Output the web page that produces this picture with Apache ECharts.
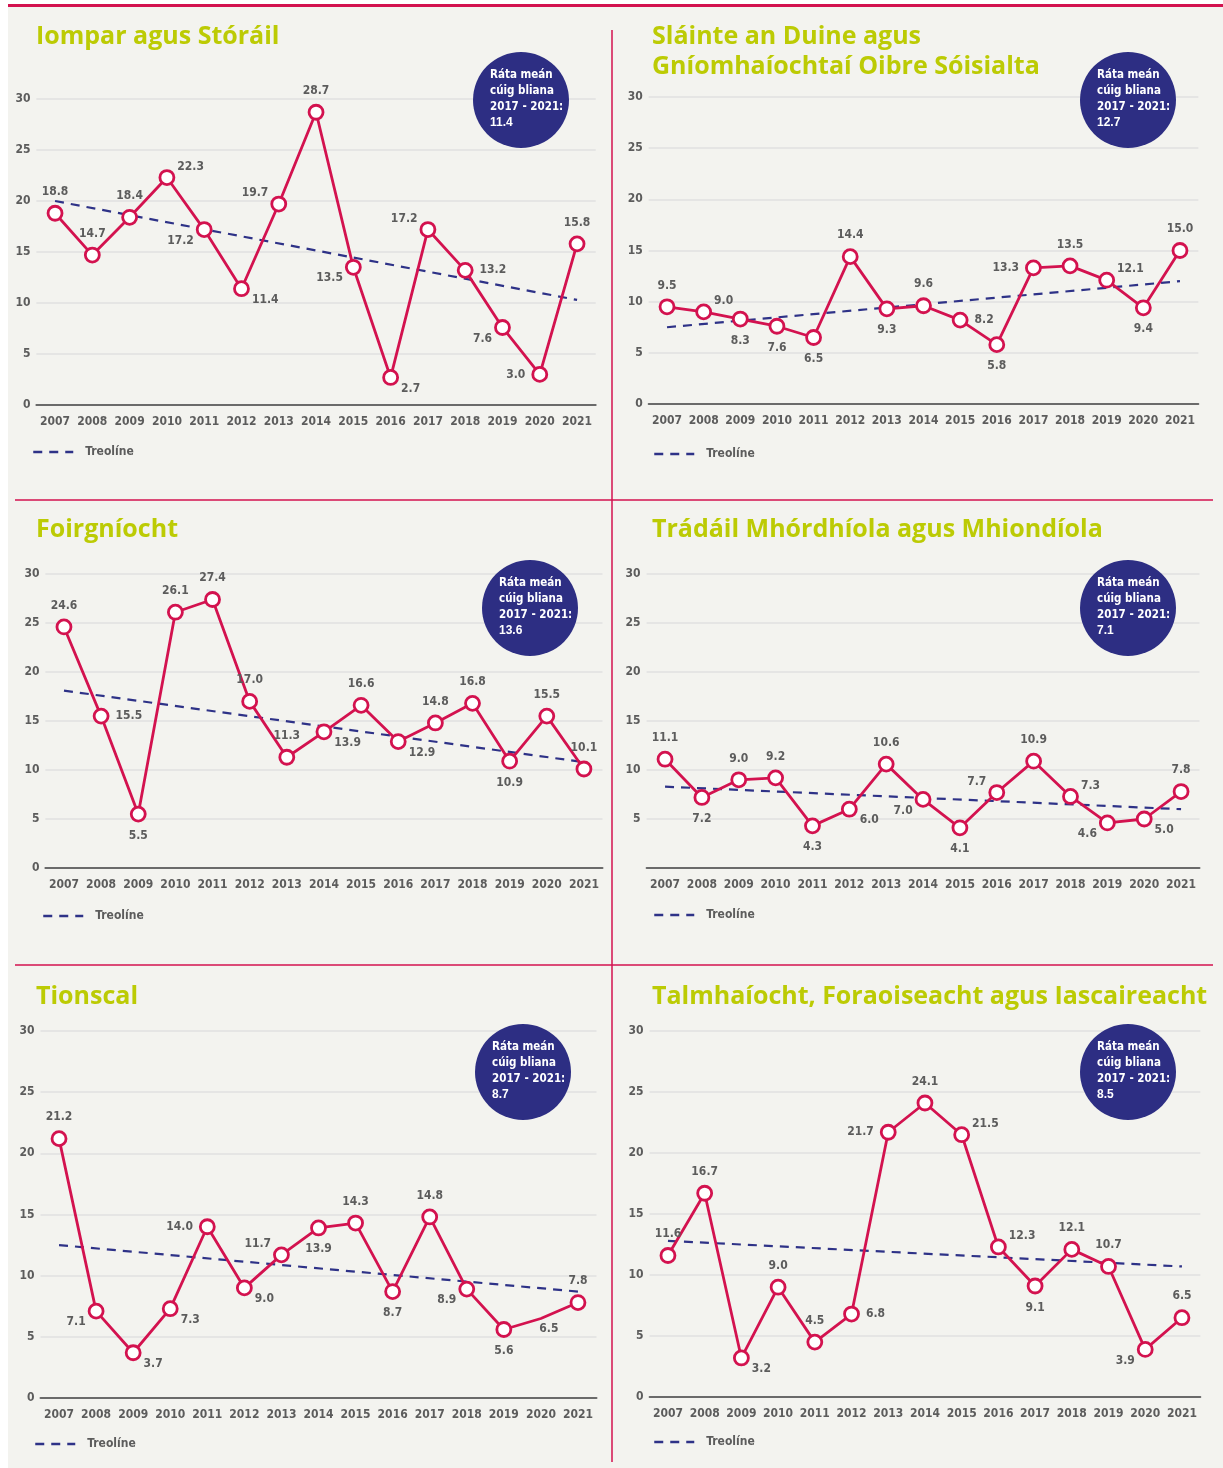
<!DOCTYPE html>
<html lang="ga">
<head>
<meta charset="UTF-8">
<title>Rátaí de réir earnála</title>
<script src="https://cdn.jsdelivr.net/npm/echarts@6/dist/echarts.min.js"></script>
<style>
  html, body { margin: 0; padding: 0; background: #ffffff; }
  #container { width: 1223px; height: 1468px; }
</style>
</head>
<body>
<div id="container"></div>
<script>
// categories
var years = ['2007', '2008', '2009', '2010', '2011', '2012', '2013', '2014',
             '2015', '2016', '2017', '2018', '2019', '2020', '2021'];
var yTicks = [0, 30, 5];   // min, max, interval

// panel titles
var titles = [
    'Iompar agus Stóráil',
    'Sláinte an Duine agus\nGníomhaíochtaí Oibre Sóisialta',
    'Foirgníocht',
    'Trádáil Mhórdhíola agus Mhiondíola',
    'Tionscal',
    'Talmhaíocht, Foraoiseacht agus Iascaireacht'
];

// yearly values
var iompar   = [18.8, 14.7, 18.4, 22.3, 17.2, 11.4, 19.7, 28.7, 13.5, 2.7, 17.2, 13.2, 7.6, 3.0, 15.8];
var slainte  = [9.5, 9.0, 8.3, 7.6, 6.5, 14.4, 9.3, 9.6, 8.2, 5.8, 13.3, 13.5, 12.1, 9.4, 15.0];
var foirgn   = [24.6, 15.5, 5.5, 26.1, 27.4, 17.0, 11.3, 13.9, 16.6, 12.9, 14.8, 16.8, 10.9, 15.5, 10.1];
var tradail  = [11.1, 7.2, 9.0, 9.2, 4.3, 6.0, 10.6, 7.0, 4.1, 7.7, 10.9, 7.3, 4.6, 5.0, 7.8];
var tionscal = [21.2, 7.1, 3.7, 7.3, 14.0, 9.0, 11.7, 13.9, 14.3, 8.7, 14.8, 8.9, 5.6, 6.5, 7.8];
var talmh    = [11.6, 16.7, 3.2, 9.0, 4.5, 6.8, 21.7, 24.1, 21.5, 12.3, 9.1, 12.1, 10.7, 3.9, 6.5];

// trend line (Treolíne) value at 2007 and at 2021
var trendIompar   = [20.0, 10.3];
var trendSlainte  = [7.5, 12.0];
var trendFoirgn   = [18.1, 10.8];
var trendTradail  = [8.3, 6.0];
var trendTionscal = [12.5, 8.7];
var trendTalmh    = [12.8, 10.7];

// five year mean 2017 - 2021
var avgRates = [11.4, 12.7, 13.6, 7.1, 8.7, 8.5];

// years plotted without a marker
var noMarker = [[], [], [], [], ['2020'], []];

// where each value label sits around its point
var placeIompar   = ['t', 't', 't', 'tr', 'bl', 'br', 'tl', 't', 'bl', 'br', 'tl', 'r', 'bl', 'l', 't'];
var placeSlainte  = ['t', 'tr', 'b', 'b', 'b', 't', 'b', 't', 'r', 'b', 'l', 't', 'tr', 'b', 't'];
var placeFoirgn   = ['t', 'r', 'b', 't', 't', 't', 't', 'br', 't', 'br', 't', 't', 'b', 't', 't'];
var placeTradail  = ['t', 'b', 't', 't', 'b', 'br', 't', 'bl', 'b', 'tl', 't', 'tr', 'bl', 'br', 't'];
var placeTionscal = ['t', 'bl', 'br', 'br', 'l', 'br', 'tl', 'b', 't', 'b', 't', 'bl', 'b', 'bR', 't'];
var placeTalmh    = ['t', 't', 'br', 't', 't', 'r', 'l', 't', 'tr', 'tr', 'b', 't', 't', 'bl', 't'];

var values = [iompar, slainte, foirgn, tradail, tionscal, talmh];
var trends = [trendIompar, trendSlainte, trendFoirgn, trendTradail, trendTionscal, trendTalmh];
var places = [placeIompar, placeSlainte, placeFoirgn, placeTradail, placeTionscal, placeTalmh];

// layout of each panel, pixels
var frames = [
    { left: 36.4, width: 559.3, top: 99, height: 306, tx: 36, ty: 22, lx: 32, ly: 453, bx: 521, by: 100, hideZero: false },
    { left: 648.7, width: 549.6, top: 97, height: 307, tx: 652, ty: 22, lx: 653, ly: 455, bx: 1128, by: 100, hideZero: false },
    { left: 45.4, width: 557.1, top: 574, height: 294, tx: 36, ty: 515, lx: 42, ly: 917, bx: 530, by: 608, hideZero: false },
    { left: 646.6, width: 552.9, top: 574, height: 294, tx: 652, ty: 515, lx: 653, ly: 916, bx: 1128, by: 608, hideZero: true },
    { left: 40.5, width: 556, top: 1031, height: 367, tx: 36, ty: 982, lx: 34, ly: 1445, bx: 523, by: 1072, hideZero: false },
    { left: 649.6, width: 550.7, top: 1031, height: 366, tx: 652, ty: 982, lx: 653, ly: 1443, bx: 1128, by: 1072, hideZero: false }
];

var RED = '#d3124f';
var NAVY = '#2e3287';
var GREEN = '#bccb04';
var GREY = '#5c5c5c';
var CONDENSED = "'DejaVu Sans Condensed', 'Liberation Sans Narrow', Roboto, sans-serif";

var labelPlace = {
    t:  { position: 'top', distance: 7 },
    b:  { position: 'bottom', distance: 7 },
    bR: { position: 'bottom', distance: 4, offset: [8, 0] },
    l:  { position: 'left', distance: 6 },
    r:  { position: 'right', distance: 6 },
    tl: { position: 'left', distance: 2, offset: [0, -11] },
    tr: { position: 'right', distance: 2, offset: [0, -11] },
    bl: { position: 'left', distance: 2, offset: [0, 11] },
    br: { position: 'right', distance: 2, offset: [0, 11] }
};

var dom = document.getElementById('container');
var myChart = echarts.init(dom, null, { renderer: 'canvas' });

var grid = [], xAxis = [], yAxis = [], series = [], legend = [], title = [];
var graphic = [
    { type: 'rect', shape: { x: 0, y: 0, width: 8, height: 1468 }, style: { fill: '#ffffff' }, z: 1 },
    { type: 'rect', shape: { x: 0, y: 0, width: 1223, height: 4 }, style: { fill: '#ffffff' }, z: 1 },
    { type: 'rect', shape: { x: 8, y: 4, width: 1215, height: 3 }, style: { fill: RED }, z: 2 },
    { type: 'line', shape: { x1: 612, y1: 30, x2: 612, y2: 1462 }, style: { stroke: RED, lineWidth: 1.5 }, z: 2 },
    { type: 'line', shape: { x1: 15, y1: 500, x2: 1213, y2: 500 }, style: { stroke: RED, lineWidth: 1.5 }, z: 2 },
    { type: 'line', shape: { x1: 15, y1: 965, x2: 1213, y2: 965 }, style: { stroke: RED, lineWidth: 1.5 }, z: 2 }
];

frames.forEach(function (f, i) {
    grid.push({ left: f.left, top: f.top, width: f.width, height: f.height, containLabel: false });

    xAxis.push({
        gridIndex: i, type: 'category', data: years, boundaryGap: true,
        axisLine: { lineStyle: { color: '#6a6a6a', width: 2 } },
        axisTick: { show: false },
        axisLabel: { color: GREY, fontSize: 12, fontWeight: 'bold', margin: 11, fontFamily: CONDENSED, interval: 0 }
    });

    yAxis.push({
        gridIndex: i, type: 'value', min: yTicks[0], max: yTicks[1], interval: yTicks[2],
        axisLine: { show: false }, axisTick: { show: false },
        splitLine: { lineStyle: { color: '#e1e1e1', width: 1.5 } },
        axisLabel: {
            color: GREY, fontSize: 12, fontWeight: 'bold', margin: 6, fontFamily: CONDENSED,
            formatter: function (v) { return (f.hideZero && v === 0) ? '' : v; }
        }
    });

    var tr = trends[i];
    series.push({
        name: 'Treolíne', type: 'line', xAxisIndex: i, yAxisIndex: i,
        data: years.map(function (y, k) {
            return k === 0 ? tr[0] : (k === years.length - 1 ? tr[1] : null);
        }),
        connectNulls: true, symbol: 'none', silent: true, z: 2,
        lineStyle: { color: NAVY, width: 2.2, type: [9, 7] },
        itemStyle: { color: NAVY }
    });

    series.push({
        name: 'Ráta', type: 'line', xAxisIndex: i, yAxisIndex: i, z: 3,
        symbol: 'circle', symbolSize: 14,
        lineStyle: { color: RED, width: 2.8 },
        itemStyle: { color: '#ffffff', borderColor: RED, borderWidth: 2.8 },
        label: {
            show: true, color: GREY, fontSize: 12, fontWeight: 'bold', fontFamily: CONDENSED,
            formatter: function (p) { return p.value.toFixed(1); }
        },
        data: values[i].map(function (v, k) {
            var item = { value: v, label: labelPlace[places[i][k]] };
            if (noMarker[i].indexOf(years[k]) >= 0) {
                item.symbolSize = 1;
                item.itemStyle = { color: RED, borderWidth: 0 };
            }
            return item;
        })
    });

    legend.push({
        data: ['Treolíne'], left: f.lx, top: f.ly - 7, padding: 0,
        itemWidth: 40, itemHeight: 14, selectedMode: false,
        itemStyle: { opacity: 0 },
        lineStyle: { width: 2.5 },
        textStyle: { color: GREY, fontSize: 12, fontWeight: 'bold', fontFamily: CONDENSED, padding: [0, 0, 0, 7] }
    });

    title.push({
        text: titles[i], left: f.tx, top: f.ty, padding: 0,
        textStyle: { color: GREEN, fontSize: 25, fontWeight: 'bold', fontFamily: 'Open Sans', lineHeight: 30 }
    });

    graphic.push({
        type: 'circle', shape: { cx: f.bx, cy: f.by, r: 48 },
        style: { fill: '#2d2e83' }, z: 50
    });
    graphic.push({
        type: 'text', x: f.bx - 31, y: f.by - 1, z: 51,
        style: {
            text: 'Ráta meán\ncúig bliana\n2017 - 2021:\n{b|' + avgRates[i].toFixed(1) + '}',
            fill: '#ffffff', fontSize: 11.5, fontWeight: 'bold', fontFamily: CONDENSED, lineHeight: 16,
            align: 'left', verticalAlign: 'middle',
            rich: { b: { fontWeight: 'bold', fontSize: 12, fill: '#ffffff', lineHeight: 16 } }
        }
    });
});

var option = {
    backgroundColor: '#f3f3ef',
    animation: false,
    title: title,
    legend: legend,
    grid: grid,
    xAxis: xAxis,
    yAxis: yAxis,
    series: series,
    graphic: graphic
};

myChart.setOption(option);
window.addEventListener('resize', myChart.resize);
</script>
</body>
</html>
